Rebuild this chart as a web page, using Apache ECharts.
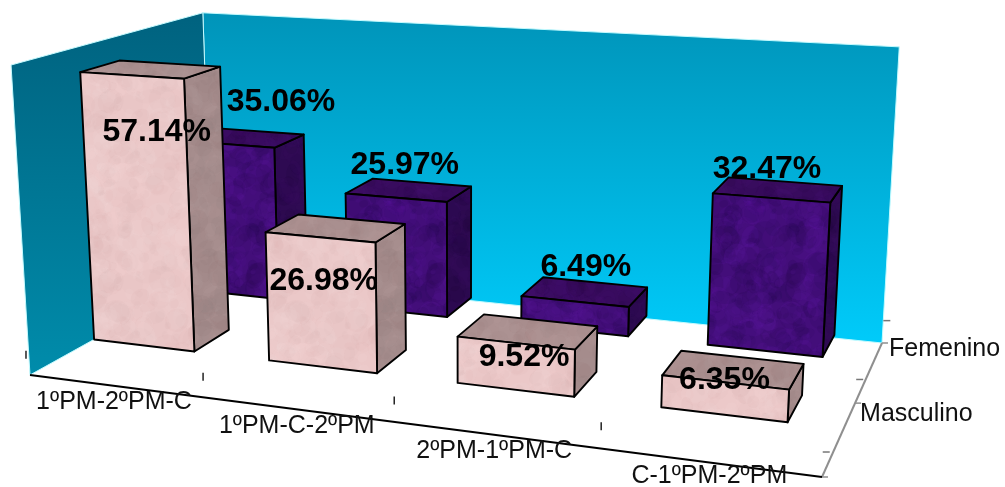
<!DOCTYPE html>
<html>
<head>
<meta charset="utf-8">
<style>html,body{margin:0;padding:0;background:#fff}#chart{width:1005px;height:487px}</style>
<script src="https://cdn.jsdelivr.net/npm/echarts@6/dist/echarts.min.js"></script>
</head>
<body>
<div id="chart"></div>
<script>
// Values
const categories = ['1ºPM-2ºPM-C', '1ºPM-C-2ºPM', '2ºPM-1ºPM-C', 'C-1ºPM-2ºPM'];
const depthNames = ['Masculino', 'Femenino'];
const masculino = [57.14, 26.98, 9.52, 6.35];
const femenino = [35.06, 25.97, 6.49, 32.47];
const valueMax = 62.4;

// Pixel nudges for the value labels, relative to the centre of each bar's top
const masculinoLabelNudge = [[6, 62.5], [-12, 53.5], [-4, 25.5], [-9, 10.5]];
const femeninoLabelNudge = [[39, -35.5], [-4, -24.5], [1, -24.5], [-11, -20.5]];
const categoryLabelNudge = [[32, 20], [27, 20], [21, 19], [15, 16]];

// Perspective camera: unit box (u along categories, v into depth, h upward) to screen
const G = -0.14578, I = 0.19515, J = -0.04176;
const VANISH_X = 465, VANISH_Y = 7488;
function project(u, v, h) {
  const w = 1 + G * u + I * v + J * h;
  return [
    (672.17 * u + 223.37 * v + 30 + VANISH_X * J * h) / w,
    (32.46 * u - 47.53 * v + 375 + VANISH_Y * J * h) / w
  ];
}

// The category band of the hidden axis, laid out along the floor
const U_START = -0.0545, U_SPAN = 1.044;
const V_START = 0.155, V_ROW = 0.515;
const BAR_FILL = 0.582, BAR_DEPTH = 0.2;

// Mottled surface tiles for the bars
function marble(base, light, dark, seed, strength) {
  const c = document.createElement('canvas');
  c.width = c.height = 180;
  const g = c.getContext('2d');
  g.fillStyle = base;
  g.fillRect(0, 0, 180, 180);
  let s = seed;
  const next = () => (s = (s * 16807) % 2147483647) / 2147483647;
  for (let i = 0; i < 520; i++) {
    const x = next() * 180, y = next() * 180, r = 2 + next() * 12;
    g.globalAlpha = strength * (0.5 + next() * 0.7);
    g.fillStyle = next() > 0.5 ? light : dark;
    const squash = 0.5 + next() * 0.5, turn = next() * 3;
    for (const dx of [-180, 0, 180]) {
      for (const dy of [-180, 0, 180]) {
        g.beginPath();
        g.ellipse(x + dx, y + dy, r, r * squash, turn, 0, 7);
        g.fill();
      }
    }
  }
  return { image: c, repeat: 'repeat' };
}
const pinkFaces = {
  front: marble('#ebc8c8', '#f8dfdf', '#d6adad', 11, 0.1),
  side: marble('#a58c8c', '#b9a0a0', '#8c7474', 23, 0.1),
  top: marble('#ac9191', '#bda3a3', '#987e7e', 37, 0.1)
};
const purpleFaces = {
  front: marble('#430e7a', '#5f18a4', '#260850', 41, 0.16),
  side: marble('#2e0a52', '#3d1068', '#1e063a', 53, 0.14),
  top: marble('#380b5e', '#4a1478', '#280845', 67, 0.14)
};

function face(points, fill) {
  return {
    type: 'polygon',
    shape: { points: points },
    style: { fill: fill, stroke: '#000', lineWidth: 1.9, lineJoin: 'round' }
  };
}

function barSeries(name, values, row, faces, nudge) {
  return {
    name: name,
    type: 'custom',
    silent: true,
    data: values.map((val, i) => [i, val]),
    encode: { x: 0, y: 1 },
    renderItem: function (params, api) {
      const sys = params.coordSys;
      const top = api.coord([api.value(0), api.value(1)]);
      const uc = U_START + U_SPAN * (top[0] - sys.x) / sys.width;
      const h = (sys.y + sys.height - top[1]) / sys.height;
      const halfU = U_SPAN * BAR_FILL * api.size([1, 0])[0] / sys.width / 2;
      const vc = V_START + (row + 0.5) * V_ROW;
      const u0 = uc - halfU, u1 = uc + halfU;
      const v0 = vc - BAR_DEPTH / 2, v1 = vc + BAR_DEPTH / 2;
      const anchor = project(uc, vc, h);
      const off = nudge[params.dataIndex];
      return {
        type: 'group',
        children: [
          face([project(u1, v0, 0), project(u1, v1, 0), project(u1, v1, h), project(u1, v0, h)], faces.side),
          face([project(u0, v0, h), project(u1, v0, h), project(u1, v1, h), project(u0, v1, h)], faces.top),
          face([project(u0, v0, 0), project(u1, v0, 0), project(u1, v0, h), project(u0, v0, h)], faces.front),
          {
            type: 'text',
            style: {
              text: api.value(1).toFixed(2) + '%',
              x: anchor[0] + off[0],
              y: anchor[1] + off[1],
              font: 'bold 32px "Liberation Sans", Arial, sans-serif',
              fill: '#000',
              align: 'center',
              verticalAlign: 'middle'
            }
          }
        ]
      };
    }
  };
}

// Walls, floor edges, ticks and axis names of the box
function frameSeries() {
  return {
    name: 'frame',
    type: 'custom',
    silent: true,
    data: [[0, 0]],
    encode: { x: 0, y: 1 },
    renderItem: function (params, api) {
      const sys = params.coordSys;
      const children = [];
      const wallEdge = { stroke: '#c4fbff', lineWidth: 1 };
      children.push({
        type: 'polygon',
        shape: { points: [project(0, 1, 0), project(1, 1, 0), project(1, 1, 1), project(0, 1, 1)] },
        style: Object.assign({
          fill: { type: 'linear', x: 0, y: 0, x2: 0, y2: 1, colorStops: [
            { offset: 0, color: '#0094b9' }, { offset: 1, color: '#00cbfa' }
          ] }
        }, wallEdge)
      });
      children.push({
        type: 'polygon',
        shape: { points: [project(0, 0, 0), project(0, 1, 0), project(0, 1, 1), project(0, 0, 1)] },
        style: Object.assign({
          fill: { type: 'linear', x: 0, y: 0, x2: 0, y2: 1, colorStops: [
            { offset: 0, color: '#00627f' }, { offset: 1, color: '#008cab' }
          ] }
        }, wallEdge)
      });
      const seg = (a, b, color, width) => ({
        type: 'line',
        shape: { x1: a[0], y1: a[1], x2: b[0], y2: b[1] },
        style: { stroke: color, lineWidth: width }
      });
      // gray depth axis and its ticks
      children.push(seg(project(1, 0, 0), project(1, 1, 0), '#8f8f8f', 2));
      for (const v of [0, 0.5, 1]) {
        const p = project(1, v, 0);
        children.push(seg(p, [p[0] + 6, p[1]], '#8f8f8f', 1.5));
      }
      for (let k = 0; k <= 2; k++) {
        const p = project(0.99, 0.15 + k * 0.528, 0);
        children.push(seg([p[0] - 1, p[1]], [p[0] + 6, p[1]], '#777', 1.5));
      }
      // black category axis, its ticks and labels
      children.push(seg(project(0, 0, 0), project(1, 0, 0), '#000', 2));
      const bandCount = categories.length;
      for (let k = 0; k < bandCount; k++) {
        const left = api.coord([k, 0])[0] - api.size([1, 0])[0] / 2;
        const p = project(0.004 + U_START + U_SPAN * (left - sys.x) / sys.width, 0.138, 0);
        children.push(seg([p[0], p[1] - 4], [p[0], p[1] + 4], '#222', 1.5));
      }
      categories.forEach((name, k) => {
        const cx = api.coord([k, 0])[0];
        const p = project(U_START + U_SPAN * (cx - sys.x) / sys.width, 0, 0);
        children.push({
          type: 'text',
          style: {
            text: name,
            x: p[0] + categoryLabelNudge[k][0],
            y: p[1] + categoryLabelNudge[k][1],
            font: '25px "Liberation Sans", Arial, sans-serif',
            fill: '#111',
            align: 'center',
            verticalAlign: 'middle'
          }
        });
      });
      // depth axis names
      const femeninoAt = project(1, 1, 0), masculinoAt = project(1, 0.5, 0);
      [[depthNames[1], femeninoAt, 7, 6], [depthNames[0], masculinoAt, 5, 11]].forEach(item => {
        children.push({
          type: 'text',
          style: {
            text: item[0],
            x: item[1][0] + item[2],
            y: item[1][1] + item[3],
            font: '25px "Liberation Sans", Arial, sans-serif',
            fill: '#111',
            align: 'left',
            verticalAlign: 'middle'
          }
        });
      });
      return { type: 'group', children: children };
    }
  };
}

const chart = echarts.init(document.getElementById('chart'), null, { renderer: 'canvas' });
chart.setOption({
  animation: false,
  backgroundColor: '#fff',
  grid: { left: 100, top: 60, width: 800, height: 360 },
  xAxis: { type: 'category', data: categories, show: false },
  yAxis: { type: 'value', min: 0, max: valueMax, show: false },
  series: [
    frameSeries(),
    barSeries(depthNames[1], femenino, 1, purpleFaces, femeninoLabelNudge),
    barSeries(depthNames[0], masculino, 0, pinkFaces, masculinoLabelNudge)
  ]
});
</script>
</body>
</html>
